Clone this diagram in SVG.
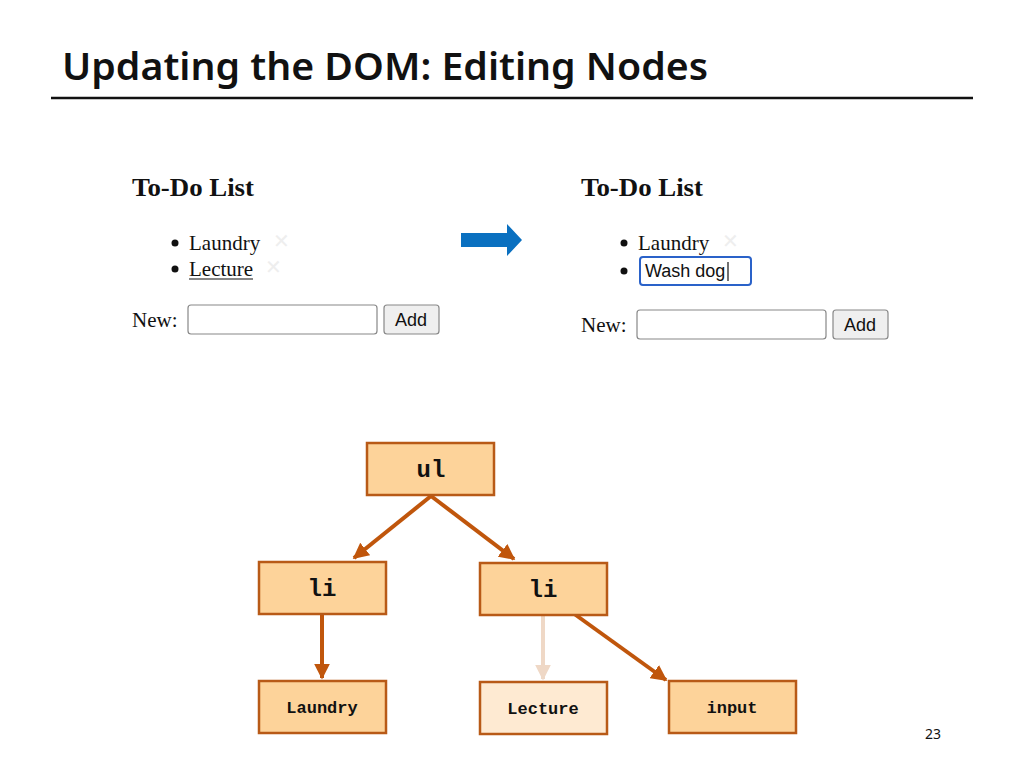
<svg xmlns="http://www.w3.org/2000/svg" width="1024" height="768" viewBox="0 0 1024 768">
<style>
.t{font-family:"Noto Sans","Open Sans",sans-serif;font-size:38px;font-weight:600;fill:#111}
.s{font-family:"Liberation Serif",serif;fill:#111}
.h{font-size:26px;font-weight:bold}
.i{font-size:21px}
.a{font-family:"Liberation Sans",Arial,sans-serif;font-size:18px;fill:#111}
.box{fill:#fff;stroke:#888;stroke-width:1.2}
.btn{fill:#efefef;stroke:#888;stroke-width:1.2}
.n rect{fill:#fdd39a;stroke:#b85a17;stroke-width:2.5}
.n text{font-family:"Liberation Mono","Courier New",monospace;font-weight:bold;fill:#111;text-anchor:middle}
.x{font-family:"Liberation Sans",sans-serif;font-size:20px;fill:#eee}
</style>
<defs>
<marker id="ah" viewBox="0 0 10 10" refX="9" refY="5" markerWidth="4" markerHeight="4" orient="auto"><path d="M0,0L10,5L0,10z" fill="#c0560c"/></marker>
<marker id="ahf" viewBox="0 0 10 10" refX="9" refY="5" markerWidth="4" markerHeight="4" orient="auto"><path d="M0,0L10,5L0,10z" fill="#efd8c6"/></marker>
</defs>
<rect width="1024" height="768" fill="#fff"/>
<text class="t" x="62" y="80" textLength="646" lengthAdjust="spacingAndGlyphs">Updating the DOM: Editing Nodes</text>
<line x1="51" y1="98" x2="973" y2="98" stroke="#111" stroke-width="2.5"/>

<g id="before">
<text class="s h" x="132" y="196" textLength="122" lengthAdjust="spacingAndGlyphs">To-Do List</text>
<circle cx="175" cy="243" r="3.5" fill="#111"/>
<text class="s i" x="189" y="250">Laundry</text><text class="x" x="273" y="248">✕</text>
<circle cx="175" cy="269" r="3.5" fill="#111"/>
<text class="s i" x="189" y="276">Lecture</text><line x1="189" y1="279" x2="253" y2="279" stroke="#111" stroke-width="1.2"/>
<text class="x" x="265" y="274">✕</text>
<text class="s i" x="132" y="327">New:</text>
<rect class="box" x="188" y="305" width="189" height="29" rx="3"/>
<rect class="btn" x="384" y="305" width="55" height="29" rx="3"/>
<text class="a" x="395" y="326">Add</text>
</g>
<path id="bigarrow" d="M461,233H507V224L522,240L507,256V247H461Z" fill="#0a70c0"/>
<g id="after">
<text class="s h" x="581" y="196" textLength="122" lengthAdjust="spacingAndGlyphs">To-Do List</text>
<circle cx="624" cy="243" r="3.5" fill="#111"/>
<text class="s i" x="638" y="250">Laundry</text><text class="x" x="722" y="248">✕</text>
<circle cx="624" cy="271" r="3.5" fill="#111"/>
<rect x="640" y="257" width="111" height="28" rx="3" fill="#fff" stroke="#2a62c9" stroke-width="2"/>
<text class="a" x="645" y="277">Wash dog</text><line x1="728" y1="262" x2="728" y2="281" stroke="#111" stroke-width="1.2"/>
<text class="s i" x="581" y="332">New:</text>
<rect class="box" x="637" y="310" width="189" height="29" rx="3"/>
<rect class="btn" x="833" y="310" width="55" height="29" rx="3"/>
<text class="a" x="844" y="331">Add</text>
</g>

<g id="connectors" stroke-width="4" fill="none">
<line x1="431" y1="496" x2="354" y2="558" stroke="#c0560c" marker-end="url(#ah)"/>
<line x1="431" y1="496" x2="514" y2="559" stroke="#c0560c" marker-end="url(#ah)"/>
<line x1="322" y1="614" x2="322" y2="678" stroke="#c0560c" marker-end="url(#ah)"/>
<line x1="543" y1="615" x2="543" y2="679" stroke="#efd8c6" marker-end="url(#ahf)"/>
<line x1="573" y1="613" x2="666" y2="680" stroke="#c0560c" marker-end="url(#ah)"/>
</g>
<g id="ul" class="n"><rect x="367" y="443" width="127" height="52"/><text x="431" y="477" font-size="24">ul</text></g>
<g id="li1" class="n"><rect x="259" y="562" width="127" height="52"/><text x="322" y="596" font-size="24">li</text></g>
<g id="li2" class="n"><rect x="480" y="563" width="127" height="52"/><text x="543" y="597" font-size="24">li</text></g>
<g id="laundry" class="n"><rect x="259" y="681" width="127" height="52"/><text x="322" y="713" font-size="17">Laundry</text></g>
<g id="lecture" class="n"><rect x="480" y="682" width="127" height="52" style="fill:#feead2"/><text x="543" y="714" font-size="17">Lecture</text></g>
<g id="input" class="n"><rect x="669" y="681" width="127" height="52"/><text x="732" y="713" font-size="17">input</text></g>
<text x="933" y="739" font-family="Noto Sans, sans-serif" font-size="14" fill="#111" text-anchor="middle">23</text>
</svg>
